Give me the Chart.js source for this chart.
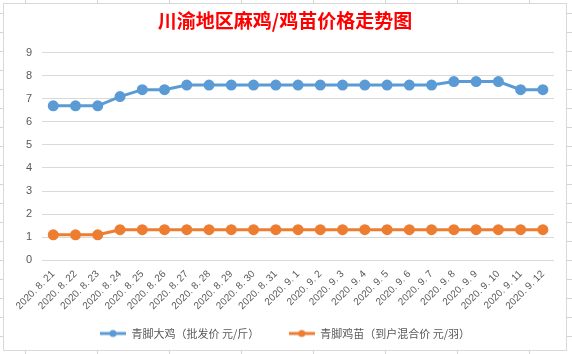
<!DOCTYPE html>
<html>
<head>
<meta charset="utf-8">
<script src="https://cdn.jsdelivr.net/npm/chart.js@4/dist/chart.umd.min.js"></script>
<style>
  html, body { margin: 0; padding: 0; }
  body {
    width: 572px; height: 354px; overflow: hidden; position: relative;
    background-color: #fff;
    background-image:
      repeating-linear-gradient(to right, transparent 0 25px, #d4d4d4 25px 26px, transparent 26px 72px),
      repeating-linear-gradient(to bottom, transparent 0 13px, #d4d4d4 13px 14px, transparent 14px 19px);
  }
  #box {
    position: absolute; left: 3px; top: 3px; width: 562px; height: 346px;
    background: #fff; border: 1px solid #d9d9d9;
  }
</style>
</head>
<body>
<div id="box"><canvas id="chart"></canvas></div>
<script>
let labels = ['2020. 8. 21', '2020. 8. 22', '2020. 8. 23', '2020. 8. 24', '2020. 8. 25', '2020. 8. 26',
  '2020. 8. 27', '2020. 8. 28', '2020. 8. 29', '2020. 8. 30', '2020. 8. 31', '2020. 9. 1', '2020. 9. 2',
  '2020. 9. 3', '2020. 9. 4', '2020. 9. 5', '2020. 9. 6', '2020. 9. 7', '2020. 9. 8', '2020. 9. 9',
  '2020. 9. 10', '2020. 9. 11', '2020. 9. 12'];

let bigChicken = [6.7, 6.7, 6.7, 7.1, 7.4, 7.4, 7.6, 7.6, 7.6, 7.6, 7.6, 7.6, 7.6, 7.6, 7.6, 7.6, 7.6, 7.6,
  7.75, 7.75, 7.75, 7.4, 7.4];
let chicks = [1.1, 1.1, 1.1, 1.32, 1.32, 1.32, 1.32, 1.32, 1.32, 1.32, 1.32, 1.32, 1.32, 1.32, 1.32, 1.32,
  1.32, 1.32, 1.32, 1.32, 1.32, 1.32, 1.32];

let yTicks = [0, 1, 2, 3, 4, 5, 6, 7, 8, 9];

let seriesNames = ['青脚大鸡（批发价 元/斤）', '青脚鸡苗（到户混合价 元/羽）'];
let seriesColors = ['#5b9bd5', '#ed7d31'];

// legend marker: short line with a dot, like excel
function legendMarker(color) {
  let c = document.createElement('canvas');
  c.width = 26;
  c.height = 10;
  let ctx = c.getContext('2d');
  ctx.strokeStyle = color;
  ctx.lineWidth = 3;
  ctx.beginPath();
  ctx.moveTo(0, 5);
  ctx.lineTo(26, 5);
  ctx.stroke();
  ctx.fillStyle = color;
  ctx.beginPath();
  ctx.arc(13, 5, 3.5, 0, Math.PI * 2);
  ctx.fill();
  return c;
}

let ctx = document.getElementById('chart').getContext('2d');
let chart = new Chart(ctx, {
  type: 'line',
  data: {
    labels: labels,
    datasets: [{
      label: seriesNames[0],
      data: bigChicken,
      borderColor: seriesColors[0],
      backgroundColor: seriesColors[0],
      borderWidth: 3,
      pointRadius: 4,
      tension: 0,
    }, {
      label: seriesNames[1],
      data: chicks,
      borderColor: seriesColors[1],
      backgroundColor: seriesColors[1],
      borderWidth: 3,
      pointRadius: 4,
      tension: 0,
    }]
  },
  options: {
    responsive: true,
    maintainAspectRatio: false,
    animation: false,
    layout: {
      padding: { left: 12, right: 12, top: 0, bottom: 1 }
    },
    plugins: {
      title: {
        display: true,
        text: '川渝地区麻鸡/鸡苗价格走势图',
        color: '#ff0000',
        font: { family: '"Noto Sans CJK SC"', size: 19, weight: 'bold' },
        padding: { top: 5, bottom: 21 }
      },
      legend: {
        display: true,
        position: 'bottom',
        labels: {
          color: '#595959',
          font: { family: '"Noto Sans CJK SC"', size: 11 },
          usePointStyle: true,
          pointStyleWidth: 26,
          padding: 16,
          generateLabels: function (chart) {
            return chart.data.datasets.map(function (ds, i) {
              return {
                // extra gap after the first item, excel spaces them wider
                text: i === 0 ? ds.label + '\u3000 \u2002' : ds.label,
                pointStyle: legendMarker(seriesColors[i]),
                fillStyle: seriesColors[i],
                strokeStyle: seriesColors[i],
                lineWidth: 0,
                fontColor: '#595959',
                datasetIndex: i
              };
            });
          }
        }
      },
      tooltip: { enabled: false }
    },
    scales: {
      x: {
        offset: true,
        grid: { display: false },
        border: { display: false },
        ticks: {
          color: '#595959',
          font: { family: '"Liberation Sans"', size: 10 },
          minRotation: 45,
          maxRotation: 45,
          autoSkip: false,
          padding: 0,
        }
      },
      y: {
        min: 0,
        max: 9,
        afterBuildTicks: function (axis) {
          axis.ticks = yTicks.map(function (v) { return { value: v }; });
        },
        grid: { color: '#d9d9d9', drawTicks: false },
        border: { display: false },
        ticks: {
          color: '#595959',
          font: { family: '"Liberation Sans"', size: 11 },
          padding: 10,
        }
      }
    }
  }
});
</script>
</body>
</html>
